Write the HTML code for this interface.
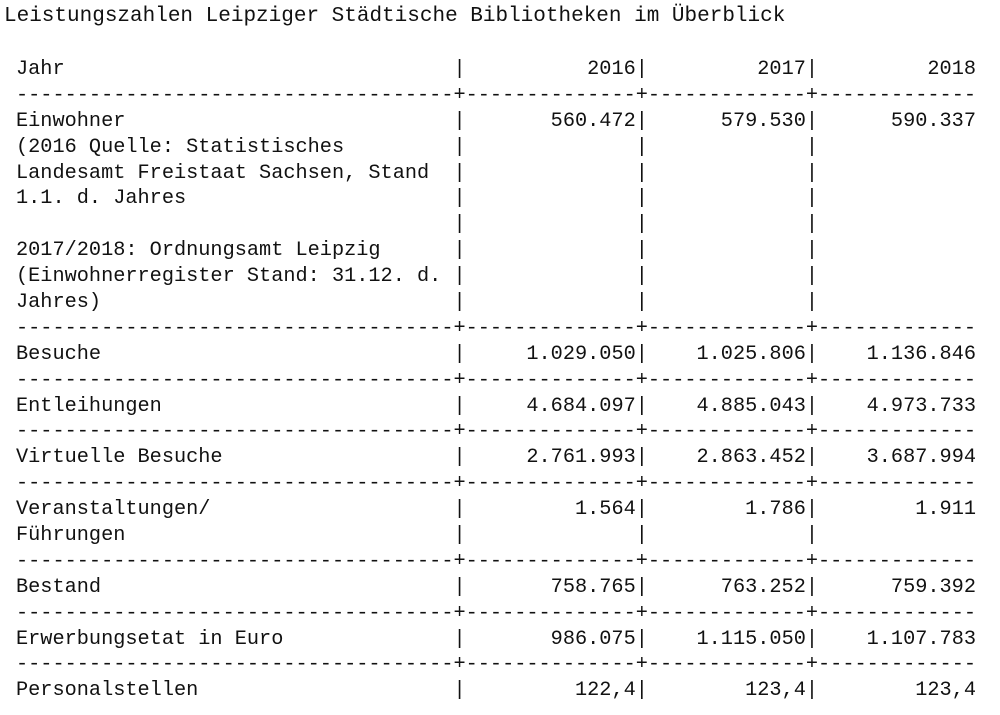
<!DOCTYPE html>
<html><head><meta charset="utf-8"><style>
body{margin:0;background:#fff;width:1000px;height:715px;overflow:hidden;position:relative;color:#111;font-family:"Liberation Mono",monospace;}
.t{position:absolute;left:4px;top:4px;font-size:21px;line-height:26px;white-space:pre;}
.tb{position:absolute;left:16px;top:57px;font-size:20.25px;line-height:25.9px;}
.tb div{height:25.9px;white-space:pre;}
.l{display:inline-block;width:36ch;}
.a{display:inline-block;width:14ch;text-align:right;}
.b{display:inline-block;width:13ch;text-align:right;}
</style></head><body>
<div class="t">Leistungszahlen Leipziger Städtische Bibliotheken im Überblick</div>
<div class="tb"><div><span class="l">Jahr</span>|<span class="a">2016</span>|<span class="b">2017</span>|<span class="b">2018</span></div><div>------------------------------------+--------------+-------------+-------------</div><div><span class="l">Einwohner</span>|<span class="a">560.472</span>|<span class="b">579.530</span>|<span class="b">590.337</span></div><div><span class="l">(2016 Quelle: Statistisches</span>|<span class="a"></span>|<span class="b"></span>|</div><div><span class="l">Landesamt Freistaat Sachsen, Stand</span>|<span class="a"></span>|<span class="b"></span>|</div><div><span class="l">1.1. d. Jahres</span>|<span class="a"></span>|<span class="b"></span>|</div><div><span class="l"></span>|<span class="a"></span>|<span class="b"></span>|</div><div><span class="l">2017/2018: Ordnungsamt Leipzig</span>|<span class="a"></span>|<span class="b"></span>|</div><div><span class="l">(Einwohnerregister Stand: 31.12. d.</span>|<span class="a"></span>|<span class="b"></span>|</div><div><span class="l">Jahres)</span>|<span class="a"></span>|<span class="b"></span>|</div><div>------------------------------------+--------------+-------------+-------------</div><div><span class="l">Besuche</span>|<span class="a">1.029.050</span>|<span class="b">1.025.806</span>|<span class="b">1.136.846</span></div><div>------------------------------------+--------------+-------------+-------------</div><div><span class="l">Entleihungen</span>|<span class="a">4.684.097</span>|<span class="b">4.885.043</span>|<span class="b">4.973.733</span></div><div>------------------------------------+--------------+-------------+-------------</div><div><span class="l">Virtuelle Besuche</span>|<span class="a">2.761.993</span>|<span class="b">2.863.452</span>|<span class="b">3.687.994</span></div><div>------------------------------------+--------------+-------------+-------------</div><div><span class="l">Veranstaltungen/</span>|<span class="a">1.564</span>|<span class="b">1.786</span>|<span class="b">1.911</span></div><div><span class="l">Führungen</span>|<span class="a"></span>|<span class="b"></span>|</div><div>------------------------------------+--------------+-------------+-------------</div><div><span class="l">Bestand</span>|<span class="a">758.765</span>|<span class="b">763.252</span>|<span class="b">759.392</span></div><div>------------------------------------+--------------+-------------+-------------</div><div><span class="l">Erwerbungsetat in Euro</span>|<span class="a">986.075</span>|<span class="b">1.115.050</span>|<span class="b">1.107.783</span></div><div>------------------------------------+--------------+-------------+-------------</div><div><span class="l">Personalstellen</span>|<span class="a">122,4</span>|<span class="b">123,4</span>|<span class="b">123,4</span></div></div>
</body></html>
